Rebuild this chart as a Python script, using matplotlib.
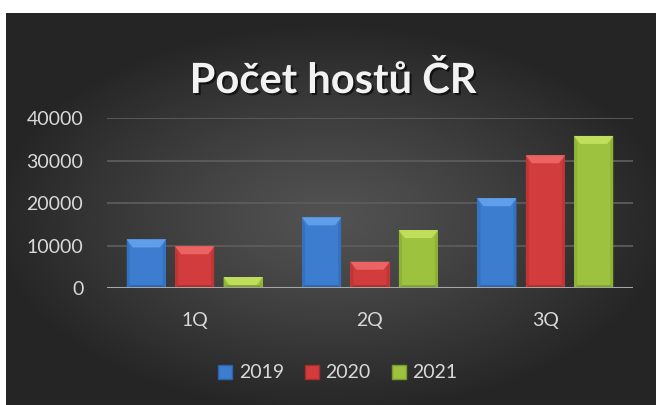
#!/usr/bin/env python3

import numpy as np
import matplotlib
matplotlib.use("Agg")
import matplotlib.pyplot as plt
import matplotlib.patheffects as pe
from matplotlib.patches import Patch, Polygon

# data
quarters = ["1Q", "2Q", "3Q"]
years = ["2019", "2020", "2021"]
guests_2019 = [11500, 16700, 21200]
guests_2020 = [9900, 6250, 31300]
guests_2021 = [2650, 13700, 35850]
y_ticks = [0, 10000, 20000, 30000, 40000]
title = "Počet hostů ČR"

# (body, top bevel, side, bottom) colours per series
palette = [
	("#3c7dd0", "#5f9fe9", "#3471c0", "#2d62a8"),
	("#d33c3c", "#ea6464", "#c13434", "#a82c2c"),
	("#9cc23e", "#c0de5c", "#8cb236", "#7a9c2e"),
]
text_col = "#d9d9d9"


def main():
	plt.rcParams['font.family'] = ['Lato', 'DejaVu Sans']
	W, H = 657, 405
	fig = plt.figure(figsize=(W / 100, H / 100), dpi=100, facecolor="white")

	# dark radial gradient background (Excel style)
	bg = fig.add_axes([6 / W, 0, 650 / W, (H - 13) / H])
	bg.set_axis_off()
	gx, gy = np.meshgrid(np.linspace(-1, 1, 400), np.linspace(-1, 1, 300))
	d = np.clip(np.sqrt((gx * 0.95) ** 2 + ((gy + 0.05) * 1.0) ** 2), 0, 1)
	val = (0x52 - (0x52 - 0x25) * d ** 1.2) / 255.0
	img = np.dstack([val, val, val])
	bg.imshow(img, aspect="auto", extent=(0, 1, 0, 1), origin="lower")
	bg.set_xlim(0, 1)
	bg.set_ylim(0, 1)

	# plot area
	left, right, top, bottom = 107, 633, 118.3, 288.3
	ax = fig.add_axes([left / W, (H - bottom) / H, (right - left) / W, (bottom - top) / H])
	ax.set_facecolor("none")
	ax.set_xlim(-0.5, len(quarters) - 0.5)
	ax.set_ylim(0, 40000)
	for s in ax.spines.values():
		s.set_visible(False)

	ax.set_yticks(y_ticks)
	ax.set_yticklabels([str(v) for v in y_ticks])
	ax.set_xticks(range(len(quarters)))
	ax.set_xticklabels(quarters)
	ax.tick_params(axis="y", length=0, pad=17, labelsize=14, labelcolor=text_col)
	ax.tick_params(axis="x", length=0, pad=17, labelsize=14, labelcolor=text_col)
	ax.yaxis.grid(True, color="#5c5c5c", linewidth=1.3, zorder=0)
	ax.set_axisbelow(True)

	series = [guests_2019, guests_2020, guests_2021]
	x = np.arange(len(quarters))
	bw = 0.2225
	step = 0.276
	bars = []
	for i, vals in enumerate(series):
		b = ax.bar(x + (i - 1) * step, vals, width=bw, color=palette[i][0],
		           edgecolor="none", zorder=2)
		bars.append(b)

	ax.axhline(0, color="#a6a6a6", linewidth=2.2, zorder=4)

	# bevel on every bar, sizes in pixels
	to_px = ax.transData
	to_data = ax.transData.inverted()
	for i, b in enumerate(bars):
		body, top_c, side_c, bot_c = palette[i]
		for r in b.patches:
			x0, y0 = to_px.transform((r.get_x(), r.get_y()))
			x1, y1 = to_px.transform((r.get_x() + r.get_width(), r.get_y() + r.get_height()))
			hgt = y1 - y0
			bv = min(8.0, hgt * 0.75)
			bi = min(6.0, bv)
			sw = 3.0
			polys = [
				([(x0, y0), (x0 + sw, y0 + sw), (x0 + sw, y1 - bv), (x0, y1)], side_c),
				([(x1, y0), (x1 - sw, y0 + sw), (x1 - sw, y1 - bv), (x1, y1)], side_c),
				([(x0, y0), (x1, y0), (x1 - sw, y0 + sw), (x0 + sw, y0 + sw)], bot_c),
				([(x0, y1), (x1, y1), (x1 - bi, y1 - bv), (x0 + bi, y1 - bv)], top_c),
			]
			for pts, c in polys:
				dp = to_data.transform(pts)
				ax.add_patch(Polygon(dp, closed=True, facecolor=c, edgecolor="none", zorder=3))

	# title
	fig.text(333 / W, (H - 93) / H, title, ha="center", va="baseline",
	         fontsize=30, fontweight="bold", color="#f2f2f2",
	         path_effects=[pe.SimplePatchShadow(offset=(1.5, -1.5), shadow_rgbFace="black", alpha=0.6),
	                       pe.Normal()])

	# legend
	handles = [Patch(facecolor=palette[i][0], edgecolor=palette[i][3], linewidth=1) for i in range(3)]
	fig.legend(handles, years, loc="center", bbox_to_anchor=(338 / W, (H - 373) / H),
	           ncol=3, frameon=False, fontsize=14, labelcolor=text_col,
	           handlelength=0.7, handleheight=0.7, handletextpad=0.35, columnspacing=1.1)

	fig.savefig("out.png", dpi=100, facecolor="white")


if __name__ == '__main__':
	main()
